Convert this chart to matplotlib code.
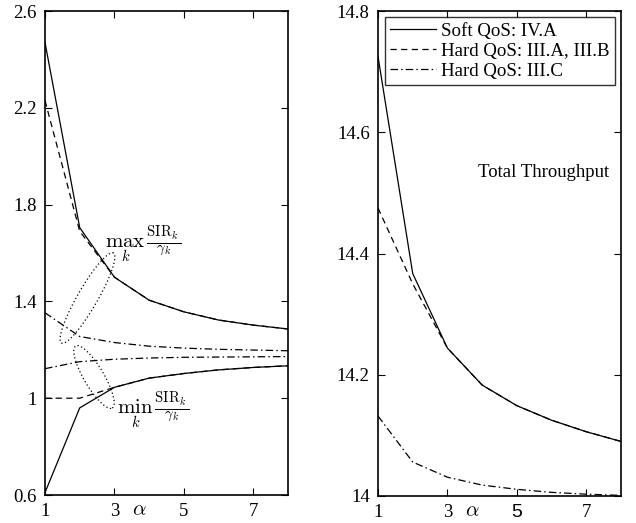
import numpy as np
import matplotlib
matplotlib.use("Agg")
import matplotlib.pyplot as plt

plt.rcParams['font.family'] = ['Liberation Serif', 'DejaVu Serif']
plt.rcParams['mathtext.fontset'] = 'cm'

# ---- data ----
alpha = [1, 2, 3, 4, 5, 6, 7, 8]

# left panel: max_k / min_k of SIR_k / gamma_k
soft_max = [2.47, 1.705, 1.50, 1.405, 1.357, 1.323, 1.302, 1.286]
soft_min = [0.61, 0.96, 1.045, 1.083, 1.102, 1.117, 1.127, 1.134]
hard_max = [2.23, 1.69, 1.50, 1.405, 1.357, 1.323, 1.302, 1.286]
hard_min = [1.0, 1.0, 1.045, 1.083, 1.102, 1.117, 1.127, 1.134]
iiic_max = [1.353, 1.255, 1.23, 1.215, 1.207, 1.202, 1.199, 1.196]
iiic_min = [1.122, 1.151, 1.161, 1.166, 1.169, 1.170, 1.171, 1.172]

# right panel: total throughput
soft_tp = [14.725, 14.367, 14.244, 14.183, 14.149, 14.125, 14.106, 14.090]
hard_tp = [14.475, 14.350, 14.244, 14.183, 14.149, 14.125, 14.106, 14.090]
iiic_tp = [14.132, 14.056, 14.031, 14.018, 14.011, 14.006, 14.003, 14.001]

labels = ['Soft QoS: IV.A', 'Hard QoS: III.A, III.B', 'Hard QoS: III.C']
xticks = [1, 3, 5, 7]
yticks_left = [0.6, 1, 1.4, 1.8, 2.2, 2.6]
yticks_right = [14, 14.2, 14.4, 14.6, 14.8]

W, H = 636, 523
fig = plt.figure(figsize=(W / 100, H / 100), dpi=100)

def ax_rect(l, r, t, b):
    return [l / W, 1 - b / H, (r - l) / W, (b - t) / H]

axL = fig.add_axes(ax_rect(45, 288, 11, 495))
axR = fig.add_axes(ax_rect(378, 621, 11, 496))

lw = 0.9
dash = (0, (5, 3.5))
dashdot = (0, (6, 2.5, 1.2, 2.5))

for ax in (axL, axR):
    ax.set_xlim(1, 8)
    ax.set_xticks(xticks)
    ax.set_xticklabels([str(t) for t in xticks])
    ax.tick_params(direction='in', top=True, right=True, length=5, width=0.8,
                   labelsize=13.5, pad=6)
    for s in ax.spines.values():
        s.set_linewidth(1.2)

# left panel
axL.plot(alpha, soft_max, color='black', lw=lw, ls='-')
axL.plot(alpha, soft_min, color='black', lw=lw, ls='-')
axL.plot(alpha, hard_max, color='black', lw=lw, ls=dash)
axL.plot(alpha, hard_min, color='black', lw=lw, ls=dash)
axL.plot(alpha, iiic_max, color='black', lw=lw, ls=dashdot)
axL.plot(alpha, iiic_min, color='black', lw=lw, ls=dashdot)
axL.set_ylim(0.6, 2.6)
axL.set_yticks(yticks_left)
axL.set_yticklabels(['0.6', '1', '1.4', '1.8', '2.2', '2.6'])

# dotted ellipses (pixel-space geometry, drawn in axes fraction)
def ellipse(ax, cx, cy, a, b, ang_deg, l, r, t, bt):
    phi = np.linspace(0, 2 * np.pi, 200)
    th = np.deg2rad(ang_deg)
    ex = a * np.cos(phi)
    ey = b * np.sin(phi)
    px = cx + ex * np.cos(th) - ey * np.sin(th)
    py = cy - (ex * np.sin(th) + ey * np.cos(th))
    fx = (px - l) / (r - l)
    fy = 1 - (py - t) / (bt - t)
    ax.plot(fx, fy, transform=ax.transAxes, color='black', lw=0.9,
            ls=(0, (1, 2)), clip_on=False)

ellipse(axL, 87.5, 298, 52, 10, 60, 45, 288, 11, 495)
ellipse(axL, 94, 377, 36, 10, -59.5, 45, 288, 11, 495)

axL.text(2.72, 1.63, r'$\max_{k}\,\frac{\mathrm{SIR}_k}{\gamma_k}$', fontsize=15,
         ha='left', va='center')
axL.text(3.06, 0.945, r'$\min_{k}\,\frac{\mathrm{SIR}_k}{\gamma_k}$', fontsize=15,
         ha='left', va='center')

# right panel
l1, = axR.plot(alpha, soft_tp, color='black', lw=lw, ls='-')
l2, = axR.plot(alpha, hard_tp, color='black', lw=lw, ls=dash)
l3, = axR.plot(alpha, iiic_tp, color='black', lw=lw, ls=dashdot)
axR.set_ylim(14, 14.8)
axR.set_yticks(yticks_right)
axR.set_yticklabels(['14', '14.2', '14.4', '14.6', '14.8'])
# the "5" tick label in the reference is in a sans font
for lab in axR.get_xticklabels():
    if lab.get_text() == '5':
        lab.set_family('Liberation Sans')
        lab.set_fontsize(14)

leg = axR.legend([l1, l2, l3], labels, loc='upper right', fontsize=13.6,
                 frameon=True, fancybox=False, edgecolor='black',
                 handlelength=2.4, borderpad=0.3, labelspacing=0.15,
                 handletextpad=0.3, borderaxespad=0.3)
leg.get_frame().set_linewidth(1.0)

axR.text(0.68, 0.668, 'Total Throughput', transform=axR.transAxes,
         fontsize=13.5, ha='center', va='center')

# alpha labels
for ax in (axL, axR):
    ax.text(0.39, -0.033, r'$\alpha$', transform=ax.transAxes, fontsize=15,
            ha='center', va='center')

fig.savefig('out.png', dpi=100)
